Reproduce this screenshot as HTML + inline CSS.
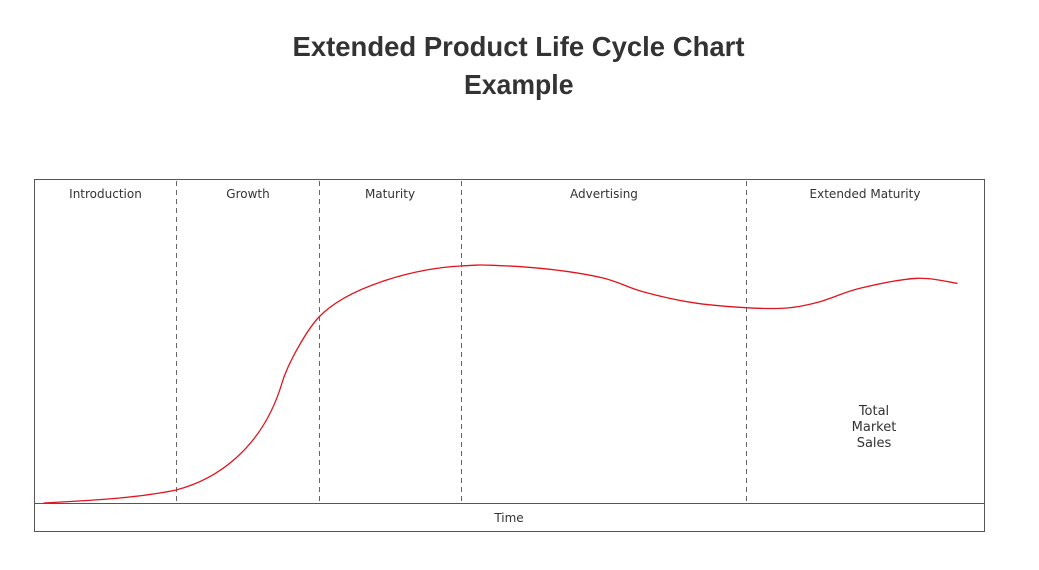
<!DOCTYPE html>
<html>
<head>
<meta charset="utf-8">
<style>
  html, body { margin: 0; padding: 0; background: #ffffff; }
  body { width: 1039px; height: 570px; overflow: hidden; }
  svg { display: block; }
</style>
</head>
<body>
<svg width="1039" height="570" viewBox="0 0 1039 570" xmlns="http://www.w3.org/2000/svg">
  <rect x="0" y="0" width="1039" height="570" fill="#ffffff"/>

  <!-- Title -->
  <g font-family="'Liberation Sans', 'DejaVu Sans', sans-serif" font-weight="bold" fill="#333333" font-size="28">
    <text x="292.5" y="56" textLength="452" lengthAdjust="spacingAndGlyphs">Extended Product Life Cycle Chart</text>
    <text x="464" y="94" textLength="109.5" lengthAdjust="spacingAndGlyphs">Example</text>
  </g>

  <!-- Frame -->
  <rect x="34.5" y="179.5" width="950" height="352" fill="none" stroke="#555555" stroke-width="1"/>
  <line x1="34.5" y1="503.5" x2="984.5" y2="503.5" stroke="#555555" stroke-width="1"/>

  <!-- Dashed separators -->
  <g stroke="#666666" stroke-width="1" stroke-dasharray="5,4">
    <line x1="176.5" y1="181" x2="176.5" y2="503"/>
    <line x1="319.5" y1="181" x2="319.5" y2="503"/>
    <line x1="461.5" y1="181" x2="461.5" y2="503"/>
    <line x1="746.5" y1="181" x2="746.5" y2="503"/>
  </g>

  <!-- Phase labels -->
  <g font-family="'DejaVu Sans', 'Liberation Sans', sans-serif" font-size="12" fill="#333333" text-anchor="middle">
    <text x="105.5" y="198">Introduction</text>
    <text x="248" y="198">Growth</text>
    <text x="390" y="198">Maturity</text>
    <text x="604" y="198">Advertising</text>
    <text x="865" y="198">Extended Maturity</text>
    <text x="509" y="522">Time</text>
  </g>

  <g font-family="'DejaVu Sans', 'Liberation Sans', sans-serif" font-size="13" fill="#333333" text-anchor="middle">
    <text x="874" y="415">Total</text>
    <text x="874" y="431">Market</text>
    <text x="874" y="447">Sales</text>
  </g>

  <!-- Curve -->
  <path fill="none" stroke="#e0141e" stroke-width="1.3" stroke-linecap="round"
    d="M44,503
       C56.7,502.2 98,500.2 120,498
       C142,495.8 161,493.3 176,490
       C215,480 262,450 282,383
       C288,363 307,329.6 319,317
       C349,285.5 420,267.5 461,266
       C476,265 478.2,264.75 493,265.3
       C507.8,265.85 531.7,267.2 550,269.3
       C568.3,271.4 587.5,274.3 603,278
       C618.5,281.7 628,287.6 643,291.7
       C658,295.8 675.8,300 693,302.7
       C710.2,305.4 730.3,306.8 746,307.7
       C761.7,308.6 774.7,309 787,308
       C799.3,307 807.8,305 820,301.7
       C832.2,298.4 843.8,292.2 860,288.3
       C876.2,284.4 900.8,279.1 917,278.3
       C933.2,277.5 950.3,282.5 957,283.3"/>
</svg>
</body>
</html>
